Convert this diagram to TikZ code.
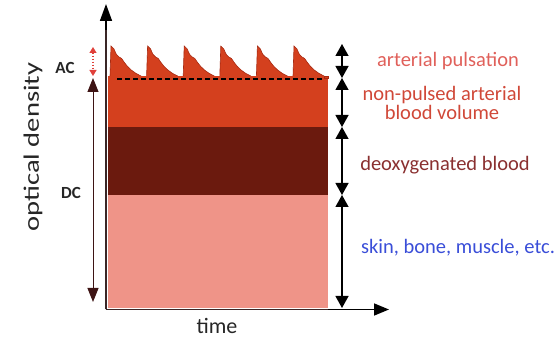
\documentclass[tikz,border=0pt]{standalone}
\usepackage{fontspec}
\setmainfont{Carlito}
\usetikzlibrary{arrows.meta}
\definecolor{redlayer}{HTML}{D4401E}
\definecolor{rededge}{HTML}{A82A12}
\definecolor{darklayer}{HTML}{6B1A0E}
\definecolor{pinklayer}{HTML}{EF9488}
\definecolor{axiscol}{HTML}{3A2626}
\definecolor{dcbrown}{HTML}{3E1414}
\definecolor{acred}{HTML}{E0403A}
\definecolor{lblpuls}{HTML}{E0605A}
\definecolor{lblnon}{HTML}{D04838}
\definecolor{lbldeoxy}{HTML}{8A3030}
\definecolor{lblskin}{HTML}{3A4ED8}
\tikzset{
  lbl/.style={font=\fontsize{20.5}{19}\selectfont, align=center, inner sep=0pt},
  seg/.style={black, line width=1.3pt, {Triangle[width=13pt,length=12pt]}-{Triangle[width=13pt,length=12pt]}},
  axisline/.style={axiscol, line width=1.6pt},
  axlbl/.style={font=\fontsize{22}{24}\selectfont, text=black!85, inner sep=0pt},
  acdc/.style={font=\bfseries\fontsize{17}{18}\selectfont, text=black!85, inner sep=0pt},
}
\begin{document}
\begin{tikzpicture}[x=1pt,y=-1pt]
\useasboundingbox (0,0) rectangle (560,347);
% layers
\fill[pinklayer] (108,195) rectangle (328,308);
\fill[darklayer] (108,127) rectangle (328,195);
\fill[redlayer] (108,78) rectangle (328,127);
% pulses
\foreach \p in {0,...,5}{
  \pgfmathsetmacro{\xo}{110+36.6*\p}
  \fill[redlayer, draw=rededge, line width=0.6pt]
    (\xo,78) -- (\xo,76) -- (\xo+1,46) -- (\xo+4,49)
    .. controls (\xo+6,54) and (\xo+7,56) .. (\xo+9,57)
    .. controls (\xo+11,57) and (\xo+12,59) .. (\xo+14,62)
    .. controls (\xo+18,68) and (\xo+24,73) .. (\xo+31,76)
    -- (\xo+31,78) -- cycle;
}
\fill[redlayer] (108,76) rectangle (328,80);
\fill[redlayer, draw=rededge, line width=0.6pt] (324.6,76) -- (328,76) -- (328,78) -- (324.6,78) -- cycle;
% dashed baseline
\coordinate (dl) at (117,79);
\coordinate (dr) at (322,79);
\draw[black, line width=1.3pt, dash pattern=on 5pt off 3pt] (dl) -- (dr);
% axes
\coordinate (origin) at (106,309.5);
\coordinate (ytop) at (106,4);
\coordinate (xend) at (389,309.5);
\draw[axisline, -{Triangle[width=12pt,length=17pt]}, black] (origin) -- (ytop);
\draw[axisline, -{Triangle[width=12pt,length=15pt]}, black] (origin) -- (xend);
\draw[axisline] (origin) -- (328,309.5);
\draw[axiscol, line width=1.4pt] (origin) -- (106,30);
% right bracket arrows
\coordinate (r0) at (342,44);
\coordinate (r1) at (342,78);
\coordinate (r2) at (342,127);
\coordinate (r3) at (342,195);
\coordinate (r4) at (342,308);
\draw[seg] (r0) -- (r1);
\draw[seg] (r1) -- (r2);
\draw[seg] (r2) -- (r3);
\draw[seg] (r3) -- (r4);
% left AC / DC arrows
\coordinate (ac1) at (93,47);
\coordinate (ac2) at (93,76);
\coordinate (dc1) at (93,78);
\coordinate (dc2) at (93,302);
\draw[acred, line width=1.2pt, dash pattern=on 1.5pt off 1.5pt, {Triangle[width=7pt,length=6pt]}-{Triangle[width=7pt,length=6pt]}] (ac1) -- (ac2);
\draw[dcbrown, line width=1pt, {Triangle[width=11pt,length=14pt]}-{Triangle[width=11pt,length=14pt]}] (dc1) -- (dc2);
\node[acdc] (ac) at (65,68) {AC};
\node[acdc] (dc) at (71,193) {DC};
\node[axlbl, rotate=90] (ylab) at (33,147) {\scalebox{1.3}[1]{optical density}};
\node[axlbl] (xlab) at (217,326) {time};
% labels
\node[lbl, text=lblpuls] (l1) at (448,61) {arterial pulsation};
\node[lbl, text=lblnon] (l2) at (442,103) {non-pulsed arterial\\blood volume};
\node[lbl, text=lbldeoxy] (l3) at (445,165) {deoxygenated blood};
\node[lbl, text=lblskin] (l4) at (458,248) {skin, bone, muscle, etc.};
\end{tikzpicture}
\end{document}
